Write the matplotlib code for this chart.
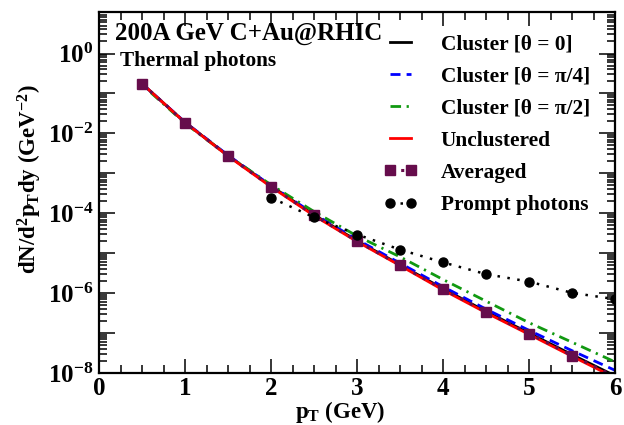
import matplotlib
matplotlib.use('Agg')
import matplotlib.pyplot as plt
import matplotlib.ticker as ticker
import numpy as np

plt.rcParams['font.family'] = ['Liberation Serif', 'DejaVu Serif']
plt.rcParams['font.weight'] = 'bold'
plt.rcParams['axes.labelweight'] = 'bold'
plt.rcParams['mathtext.default'] = 'regular'

# thermal photon spectra, pT in GeV
pt = [0.5, 1.0, 1.5, 2.0, 2.5, 3.0, 3.5, 4.0, 4.5, 5.0, 5.5, 6.0]
cluster_0 = [1.74e-1, 1.86e-2, 2.75e-3, 4.79e-4, 9.1e-5, 2.04e-5, 5.13e-6, 1.29e-6, 3.47e-7, 1.0e-7, 2.88e-8, 8.5e-9]
cluster_pi4 = [1.74e-1, 1.9e-2, 2.82e-3, 4.9e-4, 9.55e-5, 2.19e-5, 5.62e-6, 1.45e-6, 3.98e-7, 1.17e-7, 3.63e-8, 1.17e-8]
unclustered = [1.74e-1, 1.86e-2, 2.69e-3, 4.57e-4, 8.7e-5, 1.95e-5, 4.9e-6, 1.2e-6, 3.24e-7, 9.3e-8, 2.63e-8, 7.6e-9]
averaged = [1.74e-1, 1.86e-2, 2.69e-3, 4.68e-4, 8.9e-5, 2.0e-5, 5.0e-6, 1.26e-6, 3.39e-7, 9.8e-8, 2.75e-8, 8.2e-9]

pt_pi2 = [0.6, 1.0, 1.5, 2.0, 2.5, 3.0, 3.5, 4.0, 4.5, 5.0, 5.5, 6.0]
cluster_pi2 = [1.05e-1, 1.78e-2, 2.75e-3, 5.13e-4, 1.1e-4, 2.69e-5, 8.1e-6, 2.19e-6, 6.3e-7, 1.82e-7, 5.9e-8, 1.9e-8]

pt_prompt = [2.0, 2.5, 3.0, 3.5, 4.0, 4.5, 5.0, 5.5, 6.0]
prompt = [2.45e-4, 7.9e-5, 2.95e-5, 1.23e-5, 5.9e-6, 3.0e-6, 1.95e-6, 1.02e-6, 7.1e-7]

ytick_pos = [1e0, 1e-1, 1e-2, 1e-3, 1e-4, 1e-5, 1e-6, 1e-7, 1e-8]
ytick_labels = ['10$^{0}$', '', '10$^{-2}$', '', '10$^{-4}$', '', '10$^{-6}$', '', '10$^{-8}$']

fig = plt.figure(figsize=(6.24, 4.25), dpi=100)
ax = fig.add_axes([0.159, 0.122, 0.827, 0.850])

ax.semilogy(pt, cluster_0, color='black', lw=2, label='Cluster [θ = 0]')
ax.semilogy(pt, cluster_pi4, color='#0000ff', lw=2, ls=(0, (3.6, 2.2)), label='Cluster [θ = π/4]')
ax.semilogy(pt_pi2, cluster_pi2, color='#119911', lw=2, ls=(0, (3.8, 2, 0.8, 2)), label='Cluster [θ = π/2]')
ax.semilogy(pt, unclustered, color='#ff0000', lw=2, label='Unclustered')
ax.semilogy(pt, averaged, color='#660d4c', lw=2.2, ls=(0, (1, 2.5)), marker='s', ms=7,
            markevery=list(range(len(pt) - 1)), label='Averaged')
ax.semilogy(pt_prompt, prompt, color='black', lw=1.8, ls=(0, (1, 3)), marker='o', ms=6.5,
            label='Prompt photons')

ax.set_xlim(0, 6)
ax.set_ylim(1e-8, 1.1e1)

ax.xaxis.set_major_locator(ticker.MultipleLocator(1))
ax.xaxis.set_minor_locator(ticker.MultipleLocator(0.25))
ax.set_yticks(ytick_pos, ytick_labels)
ax.yaxis.set_minor_locator(ticker.LogLocator(base=10, subs=np.arange(2, 10), numticks=30))
ax.yaxis.set_minor_formatter(ticker.NullFormatter())

ax.tick_params(which='both', direction='in', top=True, right=True, labelsize=18, width=1.1)
ax.tick_params(axis='x', which='major', length=10, pad=3)
ax.tick_params(axis='y', which='major', length=11.5, pad=4)
ax.tick_params(which='minor', length=5.5)
for s in ax.spines.values():
    s.set_linewidth(1.6)

ax.set_xlabel('p$_{T}$ (GeV)', fontsize=16.5)
ax.xaxis.set_label_coords(0.467, -0.071)
ax.set_ylabel('dN/d$^{2}$p$_{T}$dy (GeV$^{-2}$)', fontsize=16.5)
ax.yaxis.set_label_coords(-0.107, 0.537)

ax.text(0.031, 0.922, '200A GeV C+Au@RHIC', transform=ax.transAxes, fontsize=18, va='baseline')
ax.text(0.04, 0.850, 'Thermal photons', transform=ax.transAxes, fontsize=15.3, va='baseline')

ax.legend(loc='upper left', bbox_to_anchor=(0.535, 0.962), frameon=False, fontsize=15.4,
          handlelength=1.55, handletextpad=1.1, labelspacing=0.57, numpoints=2, borderaxespad=0)

fig.savefig('out.png', dpi=100)
